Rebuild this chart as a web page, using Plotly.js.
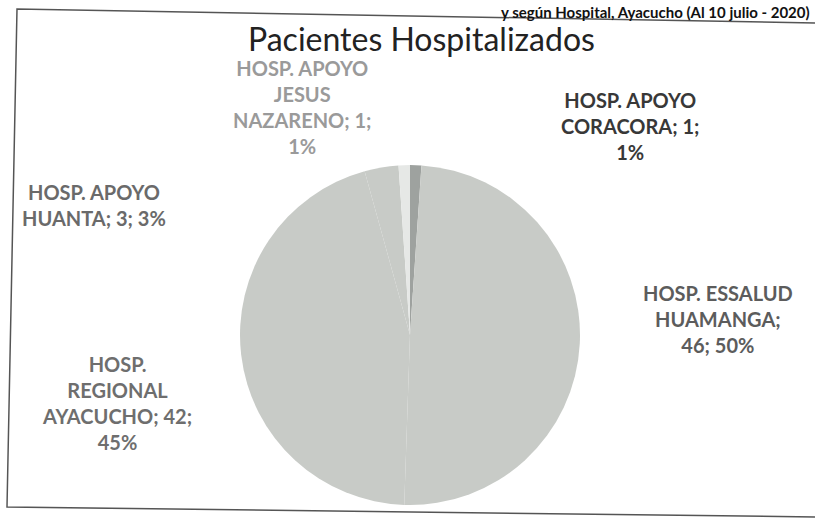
<!DOCTYPE html>
<html>
<head>
<meta charset="utf-8">
<script src="https://cdn.plot.ly/plotly-3.0.1.min.js"></script>
<style>html,body{margin:0;padding:0;background:#fff;}#chart{width:815px;height:519px;}</style>
</head>
<body>
<div id="chart"></div>
<script>
// ---- data ----
const labels = ['HOSP. APOYO CORACORA', 'HOSP. ESSALUD HUAMANGA', 'HOSP. REGIONAL AYACUCHO', 'HOSP. APOYO HUANTA', 'HOSP. APOYO JESUS NAZARENO'];
const values = [1, 46, 42, 3, 1];
const chartTitle = 'Pacientes Hospitalizados';
const pageHeader = 'y según Hospital, Ayacucho (Al 10 julio - 2020)';

// ---- styling / layout ----
const sliceColors = ['#9ea29f', '#c8cbc7', '#c8cbc7', '#c8cbc7', '#e6e8e6'];
const labelStyle = [
  {x: 630, y: 126, color: '#383838', lines: [2, 2, 1]},
  {x: 718, y: 319, color: '#5c5c5c', lines: [2, 1, 2]},
  {x: 117, y: 403, color: '#6e6e6e', lines: [1, 1, 2, 1]},
  {x: 94,  y: 205, color: '#6a6a6a', lines: [2, 3]},
  {x: 302, y: 107, color: '#9a9a9a', lines: [2, 1, 2, 1]}
];
const W = 815, H = 519;
const total = values.reduce((a, b) => a + b, 0);

// percentages rounded so they sum to 100 (largest remainder, as the spreadsheet labels do)
const raw = values.map(v => v / total * 100);
const pcts = raw.map(Math.floor);
let rest = 100 - pcts.reduce((a, b) => a + b, 0);
raw.map((v, i) => [v - Math.floor(v), i]).sort((a, b) => b[0] - a[0])
   .forEach(([f, i]) => { if (rest > 0) { pcts[i] += 1; rest -= 1; } });

function wrapText(words, counts) {
  const out = []; let i = 0;
  counts.forEach(c => { out.push(words.slice(i, i + c).join(' ')); i += c; });
  return out.join('<br>');
}

const annotations = labels.map((lab, i) => {
  const words = (lab + '; ' + values[i] + '; ' + pcts[i] + '%').split(' ');
  const st = labelStyle[i];
  return {
    text: wrapText(words, st.lines),
    x: st.x / W, y: 1 - st.y / H, xref: 'paper', yref: 'paper',
    xanchor: 'center', yanchor: 'middle', showarrow: false, align: 'center',
    font: {family: 'Lato, "DejaVu Sans", sans-serif', size: 20, color: st.color, weight: 'bold'}
  };
});

annotations.push({
  text: chartTitle, x: 421 / W, y: 1 - 38 / H, xref: 'paper', yref: 'paper',
  xanchor: 'center', yanchor: 'middle', showarrow: false,
  font: {family: 'Lato, "Open Sans", sans-serif', size: 32, color: '#222'}
});
annotations.push({
  text: pageHeader, x: 812 / W, y: 1 - 1 / H, xref: 'paper', yref: 'paper',
  xanchor: 'right', yanchor: 'top', showarrow: false,
  font: {family: 'Lato, "Open Sans", sans-serif', size: 15, color: '#111', weight: 'bold'}
});

const cx = 410, cy = 335, r = 170;
const trace = {
  type: 'pie',
  labels: labels,
  values: values,
  sort: false,
  direction: 'clockwise',
  rotation: 0,
  textinfo: 'none',
  hoverinfo: 'label+value+percent',
  marker: {colors: sliceColors, line: {width: 0}},
  showlegend: false,
  domain: {x: [(cx - r) / W, (cx + r) / W], y: [1 - (cy + r) / H, 1 - (cy - r) / H]}
};

const frame = {
  type: 'path', xref: 'paper', yref: 'paper',
  path: 'M 1.0,' + (1 - 23 / H) + ' L ' + (17 / W) + ',' + (1 - 9 / H) +
        ' L ' + (7 / W) + ',' + (1 - 507 / H) + ' L 1.0,' + (1 - 517 / H),
  line: {color: '#555', width: 1.5}
};

const layout = {
  width: W, height: H,
  margin: {l: 0, r: 0, t: 0, b: 0},
  paper_bgcolor: '#fff',
  plot_bgcolor: '#fff',
  annotations: annotations,
  shapes: [frame],
  showlegend: false
};

Plotly.newPlot('chart', [trace], layout, {displayModeBar: false, staticPlot: true});
</script>
</body>
</html>
